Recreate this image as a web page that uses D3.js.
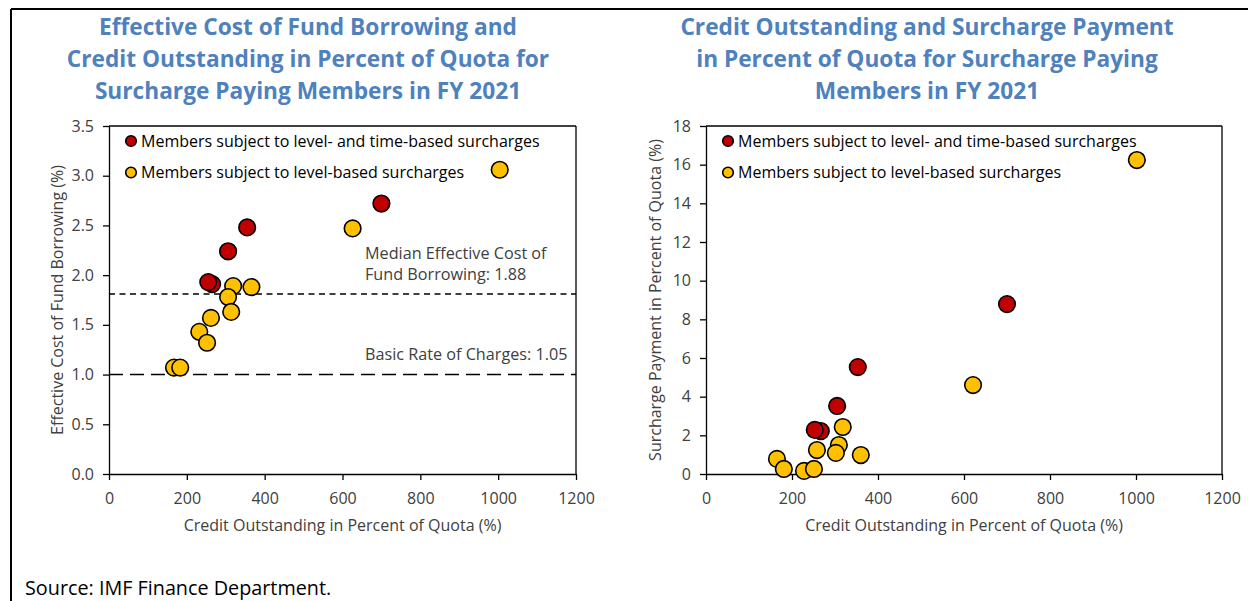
<!DOCTYPE html>
<html><head><meta charset="utf-8">
<script src="https://cdn.jsdelivr.net/npm/d3@7"></script>
<style>
body{margin:0;background:#fff;}
text{font-family:"Open Sans",sans-serif;}
</style></head>
<body><svg id="c" width="1248" height="601"></svg>
<script>
// ---- Data ----
const xTicks = [0, 200, 400, 600, 800, 1000, 1200];
const yTicksLeft = [0.0, 0.5, 1.0, 1.5, 2.0, 2.5, 3.0, 3.5];
const yTicksRight = [0, 2, 4, 6, 8, 10, 12, 14, 16, 18];

// Left chart: credit outstanding (% quota) vs effective cost (%)
const leftYellowX = [1004, 626, 319, 366, 306, 314, 262, 232, 252, 167, 183];
const leftYellowY = [3.06, 2.47, 1.89, 1.88, 1.78, 1.63, 1.57, 1.43, 1.32, 1.07, 1.07];
const leftRedX = [700, 355, 306, 265, 255];
const leftRedY = [2.72, 2.48, 2.24, 1.91, 1.93];

// Right chart: credit outstanding vs surcharge payment (% quota)
const rightYellowX = [1002, 621, 318, 258, 309, 302, 360, 165, 181, 228, 251];
const rightYellowY = [16.24, 4.60, 2.43, 1.24, 1.50, 1.09, 0.98, 0.78, 0.26, 0.16, 0.26];
const rightRedX = [700, 353, 305, 267, 253];
const rightRedY = [8.79, 5.53, 3.52, 2.22, 2.28];

const medianLine = 1.81;
const basicRateLine = 1.0;

const legendLabels = ["Members subject to level- and time-based surcharges",
                      "Members subject to level-based surcharges"];
const titleLeft = ["Effective Cost of Fund Borrowing and",
                   "Credit Outstanding in Percent of Quota for",
                   "Surcharge Paying Members in FY 2021"];
const titleRight = ["Credit Outstanding and Surcharge Payment",
                    "in Percent of Quota for Surcharge Paying",
                    "Members in FY 2021"];
const xLabel = "Credit Outstanding in Percent of Quota (%)";
const yLabelLeft = "Effective Cost of Fund Borrowing (%)";
const yLabelRight = "Surcharge Payment in Percent of Quota (%)";

// ---- Styles ----
const RED = "#c00000", YELLOW = "#ffc000", BLUE = "#4f81bd", TXT = "#404040";
const svg = d3.select("#c");

// outer frame
svg.append("line").attr("x1",11).attr("x2",1248).attr("y1",9).attr("y2",9).attr("stroke","#000").attr("stroke-width",2);
svg.append("line").attr("x1",11).attr("x2",11).attr("y1",9).attr("y2",601).attr("stroke","#000").attr("stroke-width",2);

svg.append("text").attr("x",25).attr("y",595).attr("font-size",19.8).attr("fill","#000")
   .text("Source: IMF Finance Department.");

function chart(opt){
  const g = svg.append("g");
  const x = d3.scaleLinear().domain([0,1200]).range([opt.x0, opt.x1]);
  const y = d3.scaleLinear().domain(opt.ydom).range([474, 126]);

  // title
  opt.title.forEach((t,i)=>{
    g.append("text").attr("x",opt.tx).attr("y",35+i*32).attr("text-anchor","middle")
     .attr("font-size",22.7).attr("font-weight","bold").attr("fill",BLUE).text(t);
  });

  // box top/right
  g.append("line").attr("x1",opt.x0).attr("x2",opt.x1).attr("y1",126).attr("y2",126).attr("stroke","#000").attr("stroke-width",1.3);
  g.append("line").attr("x1",opt.x1).attr("x2",opt.x1).attr("y1",126).attr("y2",474).attr("stroke","#000").attr("stroke-width",1.3);

  const xa = g.append("g").attr("transform",`translate(0,474)`)
    .call(d3.axisBottom(x).tickValues(xTicks).tickSize(6).tickSizeOuter(0).tickFormat(d3.format("d")));
  const ya = g.append("g").attr("transform",`translate(${opt.x0},0)`)
    .call(d3.axisLeft(y).tickValues(opt.yticks).tickSize(6).tickSizeOuter(0).tickFormat(opt.yfmt));
  [xa,ya].forEach(a=>{
    a.select(".domain").attr("stroke","#000").attr("stroke-width",1.3);
    a.selectAll(".tick line").attr("stroke","#000").attr("stroke-width",1.3);
    a.selectAll(".tick text").attr("font-size",16).attr("fill",TXT).attr("font-family","Open Sans");
  });
  xa.selectAll(".tick text").attr("dy","0.35em").attr("y",24);
  ya.selectAll(".tick text").attr("x",-15);

  // axis titles
  g.append("text").attr("x",(opt.x0+opt.x1)/2).attr("y",525).attr("dy","0.35em").attr("text-anchor","middle")
   .attr("font-size",16).attr("fill",TXT).text(xLabel);
  g.append("text").attr("transform",`translate(${opt.ylx},${opt.yly}) rotate(-90)`).attr("text-anchor","middle")
   .attr("dy","0.35em").attr("font-size",16).attr("fill",TXT).text(opt.ylabel);

  if(opt.extra) opt.extra(g,x,y);

  // points
  const pts = (xs,ys,col)=>{
    g.append("g").selectAll("circle").data(xs.map((v,i)=>[v,ys[i]])).join("circle")
     .attr("cx",d=>x(d[0])).attr("cy",d=>y(d[1])).attr("r",8.3)
     .attr("fill",col).attr("stroke","#000").attr("stroke-width",1.6);
  };
  pts(opt.yx,opt.yy,YELLOW);
  pts(opt.rx,opt.ry,RED);

  // legend
  const lg = g.append("g");
  [[RED,legendLabels[0]],[YELLOW,legendLabels[1]]].forEach((d,i)=>{
    lg.append("circle").attr("cx",opt.x0+22).attr("cy",141+i*31.5).attr("r",5.3)
      .attr("fill",d[0]).attr("stroke","#000").attr("stroke-width",1.6);
    lg.append("text").attr("x",opt.x0+32).attr("y",141+i*31.5).attr("dy","0.35em")
      .attr("font-size",16).attr("fill","#000").text(d[1]);
  });
}

chart({x0:109,x1:576,tx:308,ydom:[0,3.5],yticks:yTicksLeft,yfmt:d3.format(".1f"),ylx:57,yly:300,
  title:titleLeft,ylabel:yLabelLeft,
  yx:leftYellowX,yy:leftYellowY,rx:leftRedX,ry:leftRedY,
  extra:(g,x,y)=>{
    g.append("line").attr("x1",x(0)).attr("x2",x(1200)).attr("y1",y(medianLine)).attr("y2",y(medianLine))
     .attr("stroke","#000").attr("stroke-width",1.4).attr("stroke-dasharray","6,4.5");
    g.append("line").attr("x1",x(0)).attr("x2",x(1200)).attr("y1",y(basicRateLine)).attr("y2",y(basicRateLine))
     .attr("stroke","#000").attr("stroke-width",1.4).attr("stroke-dasharray","14,7");
    const ann = [["Median Effective Cost of",253],["Fund Borrowing: 1.88",274],["Basic Rate of Charges: 1.05",354]];
    ann.forEach(a=>g.append("text").attr("x",365).attr("y",a[1]).attr("dy","0.35em")
      .attr("font-size",16.2).attr("fill",TXT).text(a[0]));
  }});

chart({x0:706,x1:1222,tx:927,ydom:[0,18],yticks:yTicksRight,yfmt:d3.format("d"),ylx:655,yly:300,
  title:titleRight,ylabel:yLabelRight,
  yx:rightYellowX,yy:rightYellowY,rx:rightRedX,ry:rightRedY});
</script></body></html>
